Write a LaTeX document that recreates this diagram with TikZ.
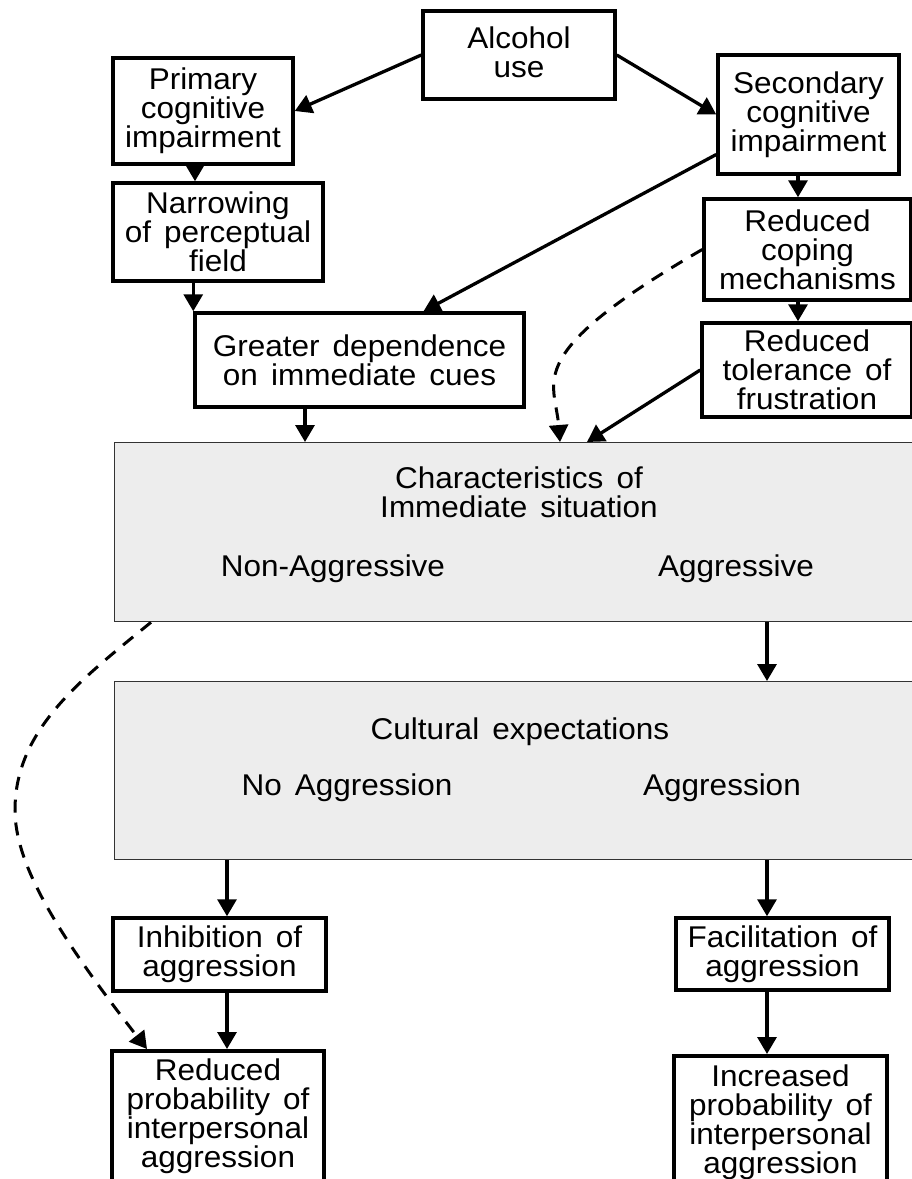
\documentclass[tikz,border=0pt]{standalone}
\usepackage{fontspec}
\setmainfont[FakeStretch=1.05,WordSpace=1.5]{Liberation Sans}
\usetikzlibrary{arrows.meta,positioning,calc}

\begin{document}
\begin{tikzpicture}[x=1pt,y=-1pt,
  font=\fontsize{30}{29}\selectfont,
  >={Triangle[length=17pt,width=19pt]},
  box/.style={draw, rectangle, line width=3.5pt, align=center, inner sep=4pt},
  greybox/.style={draw=black!80, rectangle, line width=1.3pt, fill=black!7, anchor=north west},
  lbl/.style={align=center, inner sep=0pt},
  flow/.style={->, line width=3.3pt},
  dashflow/.style={->, line width=3pt, dash pattern=on 13pt off 10pt}]
\useasboundingbox (0,0) rectangle (912,1179);

% Top row
\node[box, minimum width=192pt, minimum height=88pt] (alcohol) at (519,55) {Alcohol\\use\vphantom{g}};
\node[box, minimum width=180pt, minimum height=106pt] (primary) at (203,111) {Primary\\cognitive\\impairment};
\node[box, minimum width=181pt, minimum height=119pt] (secondary) at (808.5,114.5) {Secondary\\cognitive\\impairment};

% Left column
\node[box, minimum width=210pt, minimum height=98pt] (narrowing) at (218,232) {Narrowing\\of perceptual\\field};
\node[box, minimum width=329pt, minimum height=94pt] (greater) at (359.5,360) {Greater dependence\\on immediate cues};

% Right column
\node[box, minimum width=207pt, minimum height=101pt] (coping) at (807.5,249.5) {Reduced\\coping\\mechanisms};
\node[box, minimum width=210pt, minimum height=94pt] (tolerance) at (807,370) {Reduced\\tolerance of\\frustration};

% Immediate situation
\node[greybox, minimum width=830pt, minimum height=179pt] (charact) at (114,442) {};
\node[lbl] (charhead) at (519,492.5) {Characteristics of\\Immediate situation};
\node[lbl] (nonaggr) at (333,569) {Non-Aggressive};
\node[lbl] (aggr) at (736,569) {Aggressive};

% Cultural expectations
\node[greybox, minimum width=830pt, minimum height=178pt] (cultural) at (114,681) {};
\node[lbl] (culthead) at (520,732) {Cultural expectations};
\node[lbl] (noaggr) at (347,787.5) {No Aggression};
\node[lbl] (aggrsn) at (722,787.5) {Aggression};

% Outcomes
\node[box, minimum width=213pt, minimum height=73pt] (inhibition) at (219.5,954.5) {Inhibition of\\aggression};
\node[box, minimum width=213pt, minimum height=72pt] (facilit) at (782.5,954) {Facilitation of\\aggression};
\node[box, anchor=north, minimum width=212pt, inner ysep=8pt, text depth=30pt] (redprob) at (218,1049) {Reduced\\probability of\\interpersonal\\aggression};
\node[box, anchor=north, minimum width=213pt, inner ysep=9pt, text depth=30pt] (incprob) at (780.5,1054) {Increased\\probability of\\interpersonal\\aggression};

% Alcohol to impairments
\draw[flow] (alcohol.west) -- (primary.east);
\draw[flow] (alcohol.east) -- (secondary.west);

% Left chain
\draw[flow] (primary.south -| 195,0) -- (narrowing.north -| 195,0);
\draw[flow] (narrowing.south -| greater.west) -- (greater.north west);
\draw[flow] (greater.south -| 305,0) -- (charact.north -| 305,0);

% Right chain
\draw[flow] ([yshift=-40pt]secondary.west) -- ([xshift=64pt]greater.north);
\draw[flow] (secondary.south -| 798,0) -- (coping.north -| 798,0);
\draw[flow] (coping.south -| 798,0) -- (tolerance.north -| 798,0);
\draw[flow] (tolerance.west) -- (charact.north -| 587,0);
\draw[dashflow] (coping.west) .. controls (520,355) and (555,380) .. (charact.north -| 560,0);

% Down to outcomes
\draw[flow] (charact.south -| 767,0) -- (cultural.north -| 767,0);
\draw[flow] (cultural.south -| 227,0) -- (inhibition.north -| 227,0);
\draw[flow] (inhibition.south -| 227,0) -- (redprob.north -| 227,0);
\draw[flow] (cultural.south -| 767,0) -- (facilit.north -| 767,0);
\draw[flow] (facilit.south -| 767,0) -- (incprob.north -| 767,0);
\draw[dashflow] (charact.south -| 151,0) .. controls (80,680) and (15,730) .. (15,810)
  .. controls (15,860) and (50,925) .. (redprob.north -| 147,0);

\end{tikzpicture}
\end{document}
